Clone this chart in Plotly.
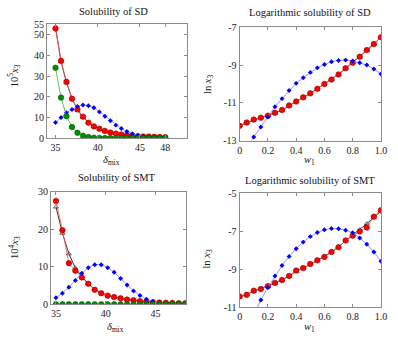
import plotly.graph_objects as go

W, H = 398, 341

# ---------------- data ----------------
delta_mix = [35.0, 35.65, 36.3, 36.95, 37.6, 38.25, 38.9, 39.55, 40.2, 40.85, 41.5,
             42.15, 42.8, 43.45, 44.1, 44.75, 45.4, 46.05, 46.7, 47.35, 48.0]
w1 = [0.0, 0.05, 0.1, 0.15, 0.2, 0.25, 0.3, 0.35, 0.4, 0.45, 0.5,
      0.55, 0.6, 0.65, 0.7, 0.75, 0.8, 0.85, 0.9, 0.95, 1.0]

# Solubility of SD (10^5 x3) vs delta_mix
sd_black = [53.6, 37.0, 26.8, 19.3, 13.6, 10.2, 7.6, 5.8, 4.4, 3.5, 2.7,
            2.2, 1.8, 1.4, 1.15, 0.97, 0.83, 0.75, 0.66, 0.58, 0.48]
sd_red = [53.0, 37.4, 27.2, 19.1, 13.9, 10.4, 7.5, 5.7, 4.5, 3.5, 2.75,
          2.2, 1.8, 1.45, 1.14, 0.98, 0.84, 0.76, 0.68, 0.59, 0.47]
sd_blue = [7.6, 10.0, 12.3, 13.9, 15.3, 16.0, 15.7, 14.7, 12.7, 10.6, 8.4,
           6.3, 4.7, 3.2, 2.1, 1.35, 0.79, 0.47, 0.27, 0.15, 0.08]
sd_green = [34.0, 19.6, 10.6, 5.4, 2.6, 1.2, 0.55, 0.25, 0.12, 0.06, 0.03,
            0.015, 0.01, 0.005, 0.003, 0.002, 0.001, 0.001, 0.0005, 0.0003, 0.0002]

# Solubility of SMT (10^4 x3) vs delta_mix
smt_black = [26.0, 19.0, 13.5, 9.7, 7.4, 5.5, 4.0, 3.0, 2.4, 1.95, 1.6,
             1.3, 1.12, 0.88, 0.7, 0.58, 0.5, 0.43, 0.38, 0.32, 0.29]
smt_red = [27.6, 19.8, 11.0, 9.0, 7.2, 5.5, 3.9, 3.0, 2.34, 1.96, 1.62,
           1.3, 1.14, 0.86, 0.69, 0.59, 0.5, 0.43, 0.39, 0.32, 0.29]
smt_blue = [1.8, 3.0, 4.6, 6.4, 8.3, 9.8, 10.6, 10.6, 9.8, 8.6, 6.9,
            5.2, 3.6, 2.4, 1.4, 0.8, 0.45, 0.24, 0.11, 0.05, 0.02]
smt_green = [0.02, 0.02, 0.02, 0.02, 0.02, 0.02, 0.02, 0.02, 0.02, 0.02, 0.02,
             0.02, 0.02, 0.02, 0.02, 0.02, 0.02, 0.02, 0.02, 0.02, 0.02]

# Logarithmic solubility of SD (ln x3) vs w1
ln_sd_black = [-12.20, -12.05, -11.90, -11.78, -11.66, -11.54, -11.39, -11.15, -10.92, -10.72, -10.51,
               -10.25, -10.01, -9.76, -9.49, -9.18, -8.87, -8.57, -8.22, -7.90, -7.52]
ln_sd_red = [-12.22, -12.04, -11.89, -11.79, -11.68, -11.53, -11.38, -11.14, -10.93, -10.71, -10.50,
             -10.26, -10.00, -9.77, -9.50, -9.17, -8.88, -8.56, -8.21, -7.89, -7.53]
ln_sd_blue = [-14.1, -13.4, -12.81, -12.28, -11.75, -11.21, -10.78, -10.35, -9.97, -9.67, -9.39,
              -9.15, -8.97, -8.83, -8.76, -8.74, -8.79, -8.88, -9.00, -9.21, -9.48]

# Logarithmic solubility of SMT (ln x3) vs w1
ln_smt_black = [-10.45, -10.34, -10.17, -10.03, -9.89, -9.75, -9.57, -9.38, -9.12, -8.95, -8.75,
                -8.55, -8.33, -8.10, -7.83, -7.51, -7.22, -6.94, -6.61, -6.27, -5.95]
ln_smt_red = [-10.44, -10.36, -10.14, -10.05, -9.90, -9.73, -9.58, -9.36, -9.08, -8.95, -8.73,
              -8.54, -8.36, -8.10, -7.85, -7.49, -7.24, -7.02, -6.81, -6.24, -5.90]
ln_smt_blue = [-13.0, -12.2, -11.4, -10.63, -9.97, -9.37, -8.81, -8.34, -7.93, -7.58, -7.29,
               -7.07, -6.93, -6.86, -6.88, -6.95, -7.08, -7.36, -7.69, -8.10, -8.59]

titles = ["Solubility of SD", "Logarithmic solubility of SD",
          "Solubility of SMT", "Logarithmic solubility of SMT"]

# ---------------- styling ----------------
FONT = "Liberation Serif"
FRAME = "#8c8c8c"

def px_x(p):
    return p / W

def px_y(p):
    return 1 - p / H

fig = go.Figure()

def add_series(xa, ya, xs, series):
    for ys, kind in series:
        if kind == "black":
            fig.add_trace(go.Scatter(x=xs, y=ys, xaxis=xa, yaxis=ya, mode="lines+markers",
                                     line=dict(color="#000000", width=0.8),
                                     marker=dict(symbol="triangle-up-open", size=4.5,
                                                 color="#333333", line=dict(width=0.7))))
        elif kind == "red":
            fig.add_trace(go.Scatter(x=xs, y=ys, xaxis=xa, yaxis=ya, mode="lines+markers",
                                     line=dict(color="#ff5a5a", width=0.8),
                                     marker=dict(symbol="circle", size=5.5, color="#ff0000",
                                                 line=dict(color="#900000", width=0.6))))
        elif kind == "blue":
            fig.add_trace(go.Scatter(x=xs, y=ys, xaxis=xa, yaxis=ya, mode="lines+markers",
                                     line=dict(color="#7878ff", width=0.8),
                                     marker=dict(symbol="diamond", size=3.8, color="#0000ff",
                                                 line=dict(width=0))))
        elif kind == "green":
            fig.add_trace(go.Scatter(x=xs, y=ys, xaxis=xa, yaxis=ya, mode="lines+markers",
                                     line=dict(color="#40b040", width=0.8),
                                     marker=dict(symbol="circle", size=5.5, color="#009000",
                                                 line=dict(color="#005000", width=0.6))))

add_series("x", "y", delta_mix, [(sd_black, "black"), (sd_red, "red"), (sd_blue, "blue"), (sd_green, "green")])
add_series("x2", "y2", w1, [(ln_sd_black, "black"), (ln_sd_red, "red"), (ln_sd_blue, "blue")])
add_series("x3", "y3", delta_mix, [(smt_black, "black"), (smt_red, "red"), (smt_blue, "blue"), (smt_green, "green")])
add_series("x4", "y4", w1, [(ln_smt_black, "black"), (ln_smt_red, "red"), (ln_smt_blue, "blue")])

def axis(domain, rng, tickvals, ticktext=None, anchor=None):
    d = dict(domain=domain, range=rng, tickvals=tickvals, showline=True, mirror="ticks",
             linecolor=FRAME, linewidth=1, ticks="inside", ticklen=3, tickcolor=FRAME,
             showgrid=False, zeroline=False, tickfont=dict(family=FONT, size=10, color="#222"),
             anchor=anchor)
    if ticktext is not None:
        d["ticktext"] = ticktext
    return d

# domains from pixel positions
xd_l1 = [px_x(46), px_x(189)]
xd_r = [px_x(242.5), px_x(386.7)]
xd_l2 = [px_x(50), px_x(188)]
yd_t1 = [px_y(137), px_y(19)]
yd_t2 = [px_y(139.5), px_y(22)]
yd_b1 = [px_y(309.3), px_y(192.7)]
yd_b2 = [px_y(312), px_y(194)]

fig.update_layout(
    width=W, height=H, margin=dict(l=0, r=0, t=0, b=0), autosize=False,
    paper_bgcolor="white", plot_bgcolor="white", showlegend=False,
    xaxis=axis(xd_l1, [34.0, 50.6], [35, 40, 45, 48], anchor="y"),
    yaxis=axis(yd_t1, [0, 55], [0, 10, 20, 30, 40, 50, 55], anchor="x"),
    xaxis2=axis(xd_r, [0, 1], [0, 0.2, 0.4, 0.6, 0.8, 1.0], ["0", "0.2", "0.4", "0.6", "0.8", "1.0"], anchor="y2"),
    yaxis2=axis(yd_t2, [-13, -7], [-13, -11, -9, -7], ["-13", "-11", "-9", "-7"], anchor="x2"),
    xaxis3=axis(xd_l2, [34.5, 48.1], [35, 40, 45], anchor="y3"),
    yaxis3=axis(yd_b1, [0, 30], [0, 10, 20, 30], anchor="x3"),
    xaxis4=axis(xd_r, [0, 1], [0, 0.2, 0.4, 0.6, 0.8, 1.0], ["0", "0.2", "0.4", "0.6", "0.8", "1.0"], anchor="y4"),
    yaxis4=axis(yd_b2, [-11, -5], [-11, -9, -7, -5], ["-11", "-9", "-7", "-5"], anchor="x4"),
)

def ann(text, x, y, size=10.5, angle=0):
    fig.add_annotation(text=text, x=px_x(x), y=px_y(y), xref="paper", yref="paper",
                       showarrow=False, textangle=angle, xanchor="center", yanchor="middle",
                       font=dict(family=FONT, size=size, color="#111"))

ann(titles[0], 114, 6)
ann(titles[1], 314, 7)
ann(titles[2], 117, 178)
ann(titles[3], 314, 181)

ann("10<sup>5</sup><i>x</i><sub>3</sub>", 13, 72, angle=-90)
ann("ln <i>x</i><sub>3</sub>", 210, 81, angle=-90)
ann("10<sup>4</sup><i>x</i><sub>3</sub>", 13, 250, angle=-90)
ann("ln <i>x</i><sub>3</sub>", 210, 262, angle=-90)

ann("<i>δ</i><sub>mix</sub>", 112, 160)
ann("<i>w</i><sub>1</sub>", 314, 160)
ann("<i>δ</i><sub>mix</sub>", 116, 333)
ann("<i>w</i><sub>1</sub>", 314, 333)

# the page body has a default 8px margin; remove it so the figure fills the window
fig.write_html("out.html", config={"displayModeBar": False},
               post_script="document.body.style.margin='0px';")
